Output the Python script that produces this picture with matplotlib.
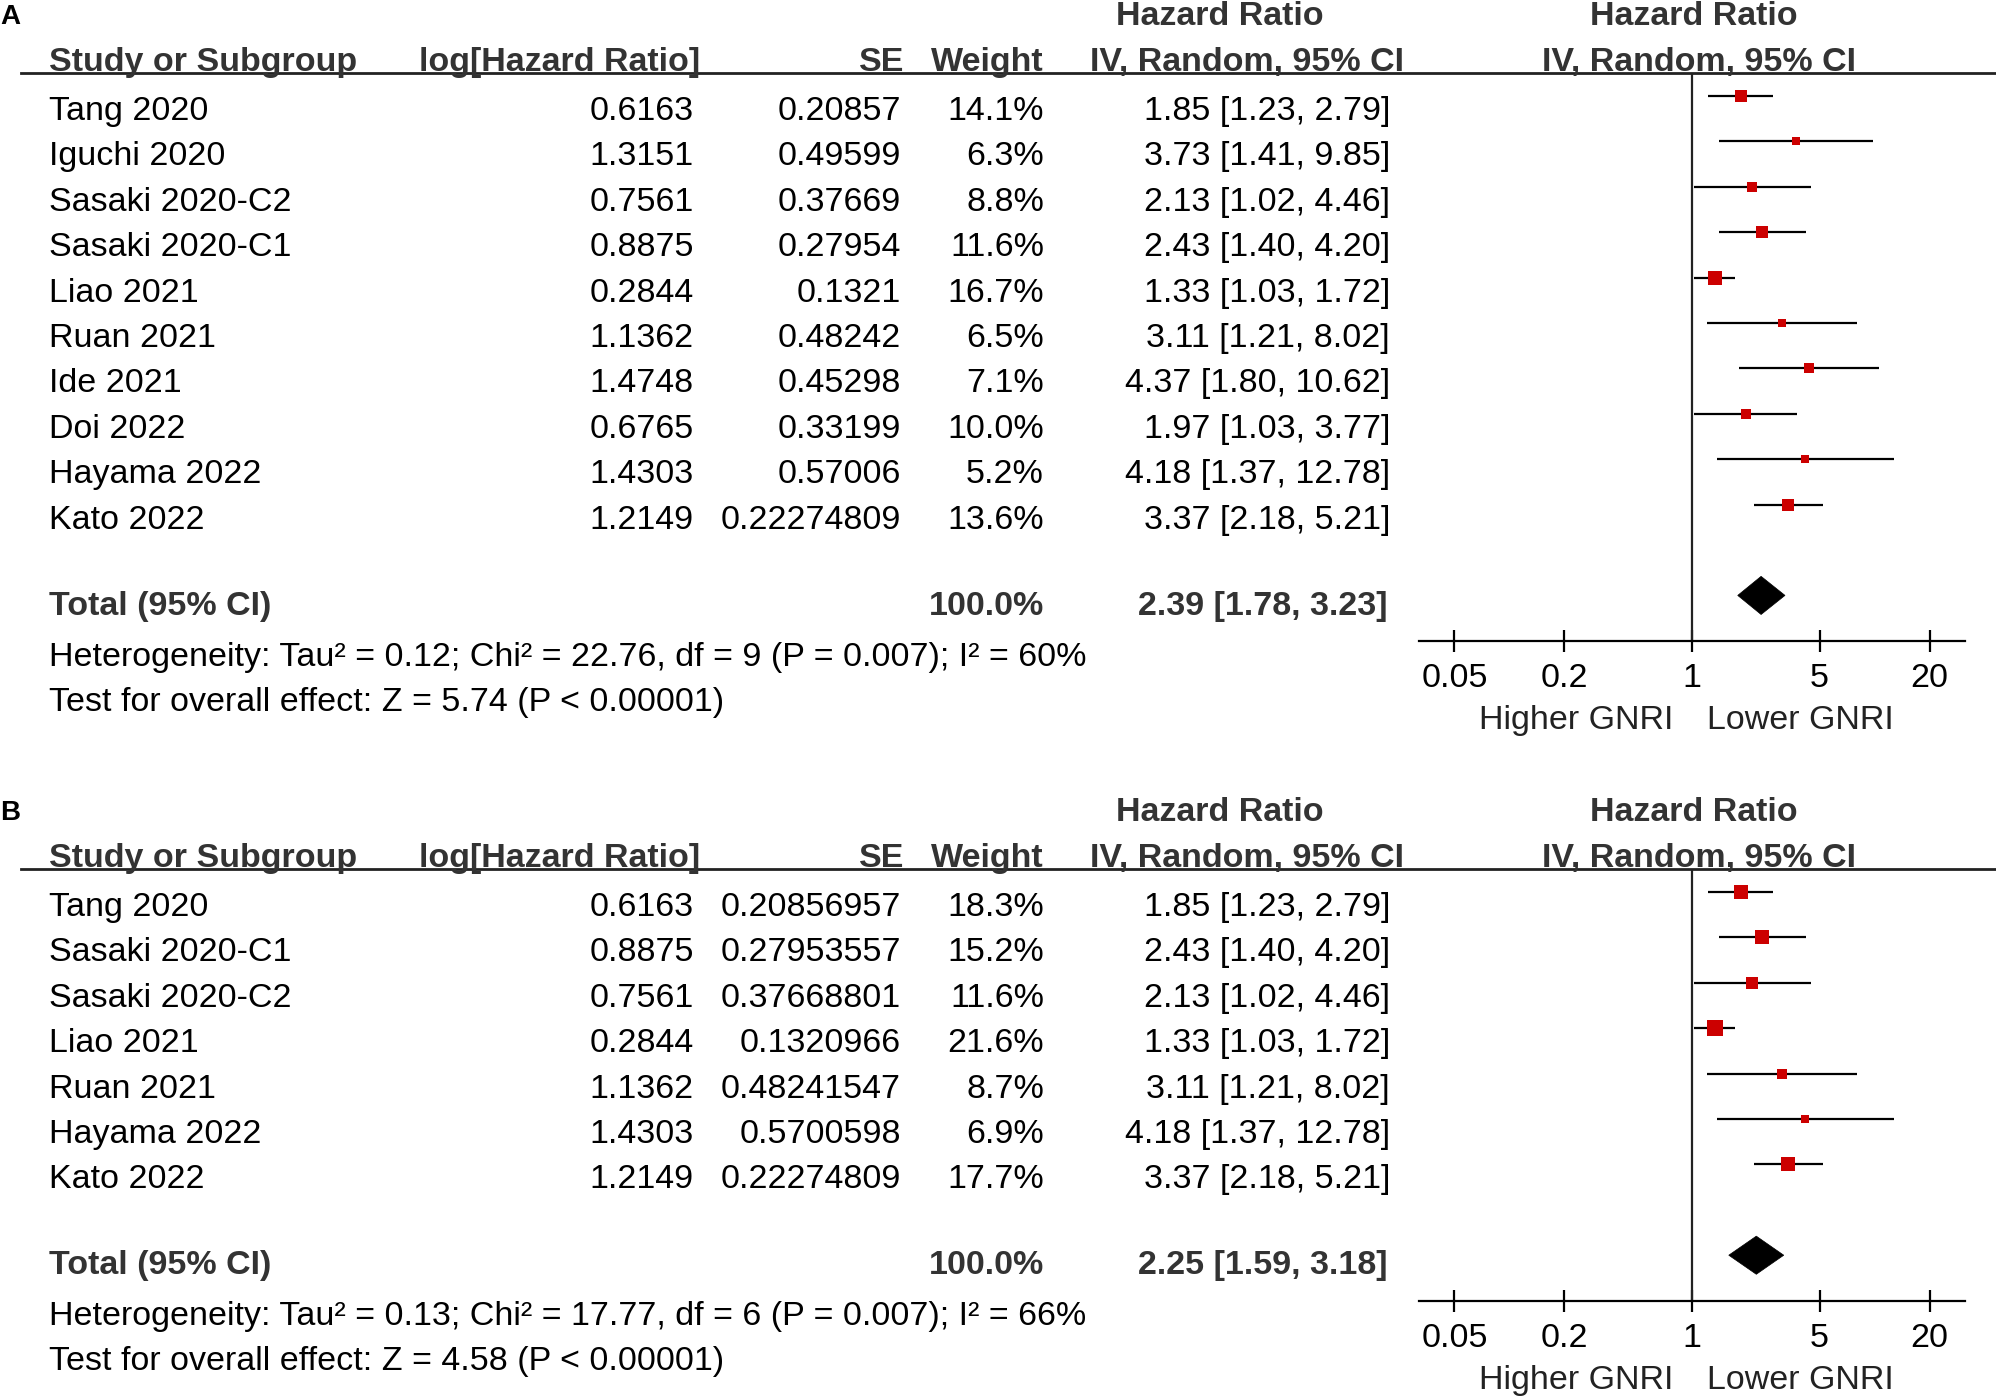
import numpy as np
import matplotlib.pyplot as plt
from matplotlib.lines import Line2D
from matplotlib.patches import Polygon

plt.rcParams['font.family'] = ['Liberation Sans', 'DejaVu Sans']

# ---- Panel A data ----
studies_a = ['Tang 2020', 'Iguchi 2020', 'Sasaki 2020-C2', 'Sasaki 2020-C1', 'Liao 2021',
             'Ruan 2021', 'Ide 2021', 'Doi 2022', 'Hayama 2022', 'Kato 2022']
loghr_a = ['0.6163', '1.3151', '0.7561', '0.8875', '0.2844', '1.1362', '1.4748', '0.6765', '1.4303', '1.2149']
se_a = ['0.20857', '0.49599', '0.37669', '0.27954', '0.1321', '0.48242', '0.45298', '0.33199', '0.57006', '0.22274809']
weight_a = [14.1, 6.3, 8.8, 11.6, 16.7, 6.5, 7.1, 10.0, 5.2, 13.6]
hr_a = [1.85, 3.73, 2.13, 2.43, 1.33, 3.11, 4.37, 1.97, 4.18, 3.37]
lo_a = [1.23, 1.41, 1.02, 1.40, 1.03, 1.21, 1.80, 1.03, 1.37, 2.18]
hi_a = [2.79, 9.85, 4.46, 4.20, 1.72, 8.02, 10.62, 3.77, 12.78, 5.21]
total_a = (2.39, 1.78, 3.23)
het_a = 'Heterogeneity: Tau² = 0.12; Chi² = 22.76, df = 9 (P = 0.007); I² = 60%'
test_a = 'Test for overall effect: Z = 5.74 (P < 0.00001)'

# ---- Panel B data ----
studies_b = ['Tang 2020', 'Sasaki 2020-C1', 'Sasaki 2020-C2', 'Liao 2021', 'Ruan 2021',
             'Hayama 2022', 'Kato 2022']
loghr_b = ['0.6163', '0.8875', '0.7561', '0.2844', '1.1362', '1.4303', '1.2149']
se_b = ['0.20856957', '0.27953557', '0.37668801', '0.1320966', '0.48241547', '0.5700598', '0.22274809']
weight_b = [18.3, 15.2, 11.6, 21.6, 8.7, 6.9, 17.7]
hr_b = [1.85, 2.43, 2.13, 1.33, 3.11, 4.18, 3.37]
lo_b = [1.23, 1.40, 1.02, 1.03, 1.21, 1.37, 2.18]
hi_b = [2.79, 4.20, 4.46, 1.72, 8.02, 12.78, 5.21]
total_b = (2.25, 1.59, 3.18)
het_b = 'Heterogeneity: Tau² = 0.13; Chi² = 17.77, df = 6 (P = 0.007); I² = 66%'
test_b = 'Test for overall effect: Z = 4.58 (P < 0.00001)'

ticks = [0.05, 0.2, 1, 5, 20]
tick_labels = ['0.05', '0.2', '1', '5', '20']

W, H = 1996, 1398
fig = plt.figure(figsize=(W / 100, H / 100), dpi=100)

FS = 24.5
RED = '#cc0000'
HEAD = '#333333'
PITCH = 45.4


def put(x, y, s, ha='left', bold=False, color='black', size=FS):
    fig.text(x / W, 1 - y / H, s, ha=ha, va='baseline', fontsize=size,
             fontweight='bold' if bold else 'normal', color=color)


def draw_panel(top, letter, studies, loghr, se, weight, hr, lo, hi, total, het, test):
    n = len(studies)
    # panel letter and header
    put(0, top - 49, letter, bold=True, size=20)
    put(1220, top - 48, 'Hazard Ratio', ha='center', bold=True, color=HEAD)
    put(1694, top - 48, 'Hazard Ratio', ha='center', bold=True, color=HEAD)
    put(49, top - 2, 'Study or Subgroup', bold=True, color=HEAD)
    put(700, top - 2, 'log[Hazard Ratio]', ha='right', bold=True, color=HEAD)
    put(904, top - 2, 'SE', ha='right', bold=True, color=HEAD)
    put(1044, top - 2, 'Weight', ha='right', bold=True, color=HEAD)
    put(1404, top - 2, 'IV, Random, 95% CI', ha='right', bold=True, color=HEAD)
    put(1699, top - 2, 'IV, Random, 95% CI', ha='center', bold=True, color=HEAD)
    fig.add_artist(Line2D([21 / W, 1], [1 - top / H, 1 - top / H], color='#222222', lw=2))

    # table rows
    for i in range(n):
        yb = top + 47 + i * PITCH
        put(49, yb, studies[i])
        put(694, yb, loghr[i], ha='right')
        put(901, yb, se[i], ha='right')
        put(1044, yb, f'{weight[i]:.1f}%', ha='right')
        put(1390, yb, f'{hr[i]:.2f} [{lo[i]:.2f}, {hi[i]:.2f}]', ha='right')

    yt = top + 47 + (n - 1) * PITCH + 86
    put(49, yt, 'Total (95% CI)', bold=True, color=HEAD)
    put(1044, yt, '100.0%', ha='right', bold=True, color=HEAD)
    put(1388, yt, f'{total[0]:.2f} [{total[1]:.2f}, {total[2]:.2f}]', ha='right', bold=True, color=HEAD)
    put(49, yt + 51, het)
    put(49, yt + 96, test)

    # forest plot
    y_top_rows = -0.507
    y_bot_rows = n + 2.01
    bottom_px = top + (y_bot_rows - y_top_rows) * PITCH
    ax = fig.add_axes([1419 / W, 1 - bottom_px / H, (1965 - 1419) / W, (bottom_px - top) / H])
    ax.set_xscale('log')
    ax.set_xlim(10 ** -1.495, 10 ** 1.495)
    ax.set_ylim(y_bot_rows, y_top_rows)
    ax.patch.set_alpha(0)
    for s in ['top', 'left', 'right']:
        ax.spines[s].set_visible(False)
    ax.spines['bottom'].set_linewidth(1.6)
    ax.axvline(1, color='#222222', lw=1.6)
    for i in range(n):
        ax.plot([lo[i], hi[i]], [i, i], color='black', lw=1.6, solid_capstyle='butt', zorder=2)
        ax.plot(hr[i], i, marker='s', color=RED, markersize=2.45 * np.sqrt(weight[i]),
                markeredgewidth=0, zorder=3)
    yd = n + 1
    est, tlo, thi = total
    ax.add_patch(Polygon([[tlo, yd], [est, yd - 0.42], [thi, yd], [est, yd + 0.42]],
                         closed=True, facecolor='black', edgecolor='black', lw=0.5, zorder=3))
    ax.set_yticks([])
    ax.set_xticks(ticks)
    ax.set_xticklabels(tick_labels)
    ax.xaxis.set_minor_locator(plt.NullLocator())
    ax.tick_params(axis='x', direction='inout', length=16, width=1.6, labelsize=FS, pad=8)

    put(1576, bottom_px + 88, 'Higher GNRI', ha='center', color='#222222')
    put(1800, bottom_px + 88, 'Lower GNRI', ha='center', color='#222222')


draw_panel(73, 'A', studies_a, loghr_a, se_a, weight_a, hr_a, lo_a, hi_a, total_a, het_a, test_a)
draw_panel(869, 'B', studies_b, loghr_b, se_b, weight_b, hr_b, lo_b, hi_b, total_b, het_b, test_b)

fig.savefig('out.png', dpi=100)
